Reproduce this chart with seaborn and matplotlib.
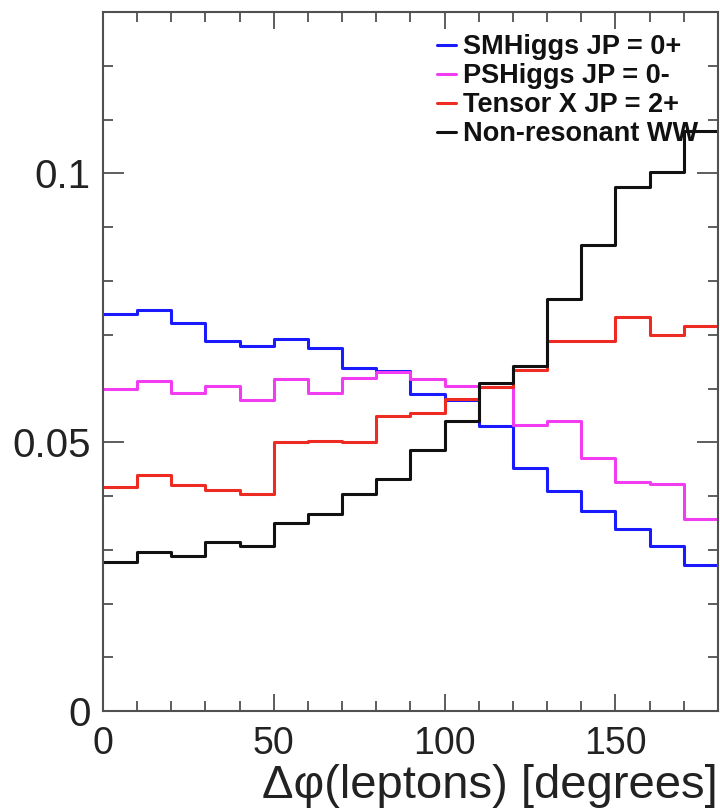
import numpy as np
import pandas as pd
import matplotlib
matplotlib.use("Agg")
import matplotlib.pyplot as plt
from matplotlib.ticker import MultipleLocator, FixedLocator, FuncFormatter
import seaborn as sns

# Normalised Δφ(leptons) distributions, 10-degree bins from 0 to 180
bin_edges = list(range(0, 181, 10))
sm_higgs = [0.0739, 0.0746, 0.0721, 0.0688, 0.0679, 0.0693, 0.0676, 0.0639, 0.0633,
            0.0589, 0.0578, 0.0531, 0.0452, 0.0410, 0.0372, 0.0338, 0.0307, 0.0272]
ps_higgs = [0.0600, 0.0614, 0.0591, 0.0604, 0.0579, 0.0617, 0.0591, 0.0619, 0.0631,
            0.0617, 0.0605, 0.0603, 0.0533, 0.0539, 0.0471, 0.0426, 0.0423, 0.0357]
tensor_x = [0.0417, 0.0440, 0.0421, 0.0412, 0.0403, 0.0500, 0.0503, 0.0500, 0.0548,
            0.0554, 0.0580, 0.0602, 0.0635, 0.0688, 0.0688, 0.0733, 0.0699, 0.0717]
nonres_ww = [0.0278, 0.0296, 0.0289, 0.0314, 0.0307, 0.0349, 0.0367, 0.0403, 0.0431,
             0.0486, 0.0540, 0.0611, 0.0642, 0.0767, 0.0867, 0.0974, 0.1003, 0.1079]

labels = ["SMHiggs JP = 0+", "PSHiggs JP = 0-", "Tensor X JP = 2+", "Non-resonant WW"]
colors = ["#1a1aff", "#f23cf2", "#ee2b22", "#111111"]
x_ticks = [0, 50, 100, 150]
y_ticks = [0, 0.05, 0.1]

sns.set_theme(style="ticks")
plt.rcParams["font.family"] = ["Liberation Sans", "DejaVu Sans"]

fig = plt.figure(figsize=(7.2, 8.09), dpi=100)
ax = fig.add_axes([0.143, 0.121, 0.854, 0.864])

centers = (np.array(bin_edges[:-1]) + np.array(bin_edges[1:])) / 2
series = [sm_higgs, ps_higgs, tensor_x, nonres_ww]
for vals, lab, col in zip(series, labels, colors):
    df = pd.DataFrame({"dphi": centers, "w": vals})
    sns.histplot(data=df, x="dphi", weights="w", bins=bin_edges, element="step",
                 fill=False, color=col, linewidth=2.2, label=lab, ax=ax)

ax.set_xlim(0, 180)
ax.set_ylim(0, 0.13)

ax.xaxis.set_major_locator(FixedLocator(x_ticks))
ax.xaxis.set_minor_locator(MultipleLocator(10))
ax.yaxis.set_major_locator(FixedLocator(y_ticks))
ax.yaxis.set_minor_locator(MultipleLocator(0.01))
ax.yaxis.set_major_formatter(FuncFormatter(lambda v, p: f"{v:g}"))

frame_col = "#505050"
for sp in ax.spines.values():
    sp.set_color(frame_col)
    sp.set_linewidth(1.5)

ax.tick_params(which="both", direction="in", top=True, right=True,
               color=frame_col, width=1.3, labelcolor="#222222")
ax.tick_params(axis="x", which="major", length=12, pad=11, labelsize=27)
ax.tick_params(axis="x", which="minor", length=7)
ax.tick_params(axis="y", which="major", length=15, pad=9, labelsize=29)
ax.tick_params(axis="y", which="minor", length=7)

ax.set_ylabel("")
ax.set_xlabel("Δφ(leptons) [degrees]", fontsize=34, color="#222222")
ax.xaxis.set_label_coords(1.0, -0.076)
ax.xaxis.label.set_horizontalalignment("right")

leg = ax.legend(loc="upper right", bbox_to_anchor=(0.985, 0.984), frameon=False,
                prop={"family": "Liberation Sans", "weight": "bold", "size": 19.5},
                handlelength=0.7, handletextpad=0.25, labelspacing=0.11,
                borderaxespad=0.0)
for t in leg.get_texts():
    t.set_color("#111111")
for h in leg.get_lines():
    h.set_linewidth(2.2)

fig.savefig("out.png", dpi=100)
